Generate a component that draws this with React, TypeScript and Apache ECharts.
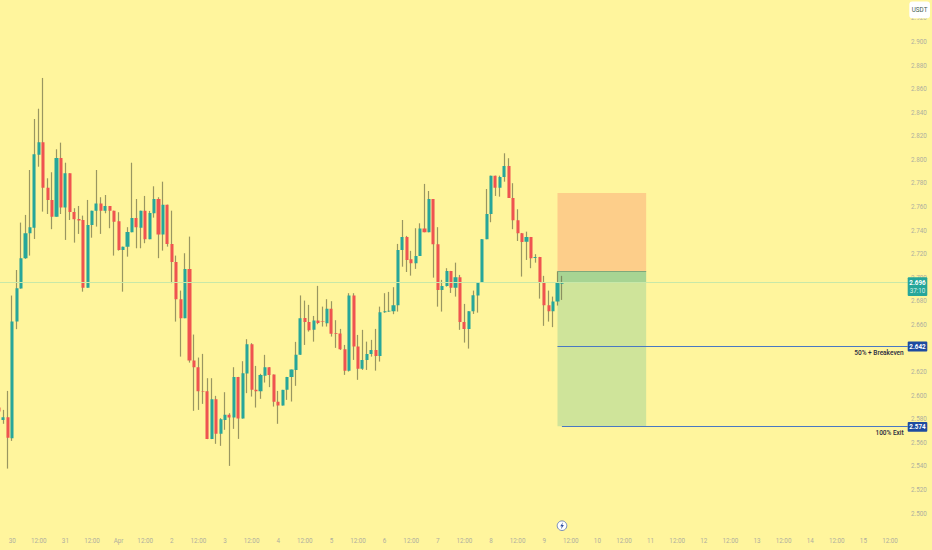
import React, { useEffect, useRef } from "react";
import * as echarts from "echarts";

const opens = [
  2.59, 2.5794, 2.5817, 2.5639, 2.6628, 2.6908, 2.7166, 2.7378, 2.7425, 2.8044,
  2.8149, 2.7764, 2.766, 2.7518, 2.8016, 2.7595, 2.7886, 2.7558, 2.7499, 2.749,
  2.6916, 2.7448, 2.7569, 2.7629, 2.7569, 2.7609, 2.7569, 2.7479, 2.7236, 2.7264,
  2.7386, 2.7507, 2.7425, 2.7569, 2.7327, 2.7547, 2.7668, 2.7366, 2.762, 2.7287,
  2.7134, 2.6818, 2.6657, 2.7075, 2.6297, 2.6241, 2.604, 2.6038, 2.5631, 2.597,
  2.5676, 2.5794, 2.5837, 2.5814, 2.6159, 2.5805, 2.6187, 2.6436, 2.6049, 2.6038,
  2.6168, 2.6241, 2.6179, 2.5947, 2.5916, 2.6049, 2.6159, 2.6218, 2.6346, 2.6659,
  2.6625, 2.6558, 2.6637, 2.6628, 2.6614, 2.6738, 2.6532, 2.6526, 2.6394, 2.621,
  2.6849, 2.6416, 2.6229, 2.6303, 2.6354, 2.6388, 2.6337, 2.6708, 2.6713, 2.6716,
  2.6767, 2.7236, 2.7346, 2.7157, 2.7123, 2.7185, 2.7417, 2.7386, 2.7668, 2.7284,
  2.6897, 2.6931, 2.7058, 2.6916, 2.7004, 2.6625, 2.6566, 2.6716, 2.6849, 2.6959,
  2.7327, 2.7541, 2.7866, 2.7764, 2.7855, 2.7948, 2.7677, 2.7488, 2.7378, 2.7306,
  2.7346, 2.7168, 2.7177, 2.6959, 2.6767, 2.6716, 2.6798, 2.695,
];
const closes = [
  2.5865, 2.5817, 2.5642, 2.6628, 2.6911, 2.7166, 2.7378, 2.7429, 2.8048, 2.8149,
  2.7764, 2.766, 2.7518, 2.8016, 2.7595, 2.7886, 2.7558, 2.7496, 2.7485, 2.6916,
  2.7448, 2.7569, 2.7629, 2.7569, 2.7609, 2.7569, 2.7476, 2.7236, 2.7264, 2.7389,
  2.7507, 2.7429, 2.7569, 2.7327, 2.755, 2.7668, 2.7366, 2.762, 2.7287, 2.7134,
  2.6818, 2.6657, 2.7075, 2.6297, 2.6241, 2.6038, 2.6034, 2.5631, 2.597, 2.5676,
  2.58, 2.5837, 2.5814, 2.6159, 2.5805, 2.619, 2.6436, 2.6049, 2.6038, 2.6174,
  2.6241, 2.6176, 2.5947, 2.5916, 2.6049, 2.6159, 2.6221, 2.6346, 2.6657, 2.6625,
  2.6555, 2.6637, 2.6617, 2.6625, 2.6738, 2.6524, 2.6524, 2.6394, 2.621, 2.6849,
  2.6416, 2.6229, 2.6303, 2.6354, 2.6388, 2.6337, 2.6708, 2.6716, 2.6719, 2.6767,
  2.7236, 2.7346, 2.7151, 2.7123, 2.7185, 2.7417, 2.7386, 2.7668, 2.7284, 2.6897,
  2.6931, 2.7058, 2.6916, 2.7004, 2.6625, 2.6566, 2.6716, 2.6852, 2.6959, 2.7327,
  2.7541, 2.7866, 2.7764, 2.7855, 2.7948, 2.7677, 2.7488, 2.7378, 2.7304, 2.7346,
  2.7166, 2.7177, 2.6959, 2.6767, 2.6716, 2.6798, 2.6959, 2.696,
];
const lows = [
  2.5794, 2.5761, 2.5381, 2.5616, 2.6564, 2.6908, 2.716, 2.7188, 2.7329, 2.7942,
  2.7561, 2.7541, 2.7412, 2.7518, 2.7541, 2.7321, 2.749, 2.7298, 2.7372, 2.6882,
  2.6916, 2.734, 2.7434, 2.7372, 2.7547, 2.742, 2.7188, 2.723, 2.6882, 2.7179,
  2.7386, 2.725, 2.725, 2.7293, 2.7327, 2.751, 2.7166, 2.723, 2.7264, 2.6954,
  2.6628, 2.6331, 2.6657, 2.628, 2.5871, 2.5879, 2.593, 2.5631, 2.5631, 2.5591,
  2.5574, 2.571, 2.5404, 2.5718, 2.5633, 2.5805, 2.6021, 2.5992, 2.5899, 2.5973,
  2.6111, 2.6072, 2.5907, 2.5761, 2.5916, 2.5964, 2.595, 2.6083, 2.6346, 2.643,
  2.6543, 2.6458, 2.6606, 2.6586, 2.6586, 2.6501, 2.6405, 2.6388, 2.6176, 2.6204,
  2.6303, 2.6134, 2.6218, 2.6218, 2.6331, 2.6212, 2.6289, 2.6702, 2.671, 2.6691,
  2.6713, 2.7094, 2.7049, 2.7018, 2.7075, 2.7185, 2.7386, 2.7386, 2.7001, 2.6755,
  2.6713, 2.6925, 2.6871, 2.684, 2.6558, 2.645, 2.6399, 2.6693, 2.6704, 2.6959,
  2.7327, 2.7471, 2.7694, 2.7688, 2.7815, 2.7677, 2.7412, 2.7312, 2.701, 2.7151,
  2.7081, 2.7128, 2.6823, 2.6592, 2.6628, 2.6581, 2.6764, 2.6812,
];
const highs = [
  2.5939, 2.5879, 2.604, 2.6849, 2.7066, 2.7468, 2.7533, 2.7914, 2.8347, 2.8434,
  2.8695, 2.7844, 2.7895, 2.809, 2.8146, 2.7976, 2.7886, 2.759, 2.7609, 2.7527,
  2.766, 2.7569, 2.7914, 2.7683, 2.7702, 2.7609, 2.7569, 2.7556, 2.7264, 2.7429,
  2.7976, 2.7668, 2.7569, 2.7694, 2.7567, 2.7776, 2.7683, 2.7815, 2.762, 2.7569,
  2.7188, 2.6891, 2.7208, 2.7349, 2.6518, 2.6323, 2.6354, 2.6148, 2.6148, 2.5998,
  2.5809, 2.6029, 2.5851, 2.6241, 2.6159, 2.6292, 2.6479, 2.6445, 2.6252, 2.6185,
  2.6346, 2.6241, 2.6179, 2.604, 2.6049, 2.6159, 2.6221, 2.6456, 2.685, 2.6806,
  2.677, 2.6676, 2.6931, 2.6755, 2.6818, 2.6801, 2.664, 2.6566, 2.643, 2.6869,
  2.6869, 2.6515, 2.6558, 2.6458, 2.6473, 2.6566, 2.6755, 2.6869, 2.688, 2.692,
  2.7287, 2.749, 2.7355, 2.7228, 2.742, 2.7462, 2.7796, 2.7736, 2.7668, 2.7429,
  2.6982, 2.7081, 2.7058, 2.7128, 2.7024, 2.6778, 2.6716, 2.6891, 2.6959, 2.7327,
  2.7753, 2.7866, 2.7866, 2.7866, 2.8056, 2.8014, 2.7802, 2.7581, 2.738, 2.7391,
  2.7346, 2.72, 2.7177, 2.7016, 2.6891, 2.684, 2.7055, 2.7016,
];

const dayLabels = ["30", "31", "Apr", "2", "3", "4", "5", "6", "7", "8", "9", "10", "11", "12", "13", "14", "15", "16"];
const BARS_PER_DAY = 12;
const FIRST_DAY_BAR = 3;
const TOTAL_BARS = 206;

const CURRENT_PRICE = 2.696;
const ENTRY_PRICE = 2.7058;
const STOP_PRICE = 2.772;
const HALF_TARGET = 2.642;
const FULL_TARGET = 2.574;
const POSITION_FROM_BAR = 126;
const POSITION_TO_BAR = 146;

const categories = Array.from({ length: TOTAL_BARS }, (_, i) => {
  const d = i - FIRST_DAY_BAR;
  if (d >= 0 && d % BARS_PER_DAY === 0) return dayLabels[d / BARS_PER_DAY];
  if (d % BARS_PER_DAY === BARS_PER_DAY / 2) return "12:00";
  return "";
});

const candles = opens.map((o, i) => [o, closes[i], lows[i], highs[i]]);

const FONT = "Roboto, 'Liberation Sans', sans-serif";
const AXIS_COLOR = "#aeae9f";
const WICK = "rgba(105,105,70,0.68)";
const SHIFT = 4;

const badge = (x: number, y: number, w: number, h: number, fill: string) => ({
  type: "rect",
  shape: { x, y, width: w, height: h, r: 1 },
  style: { fill },
  z: 100,
});
const label = (
  text: string,
  x: number,
  y: number,
  fill: string,
  align: string,
  fontWeight: any = "normal",
  fontSize = 6.3
) => ({
  type: "text",
  z: 101,
  style: { text, x, y, fill, textAlign: align, textVerticalAlign: "middle", fontFamily: FONT, fontSize, fontWeight },
});

export default function App() {
  const ref = useRef<HTMLDivElement>(null);
  useEffect(() => {
    document.body.style.margin = "0";
    const chart = echarts.init(ref.current!, null, { renderer: "svg" });
    chart.setOption({
      animation: false,
      backgroundColor: "#fff59d",
      grid: { left: SHIFT - 3.32, top: 18.425, width: 913.27, height: 518.65 },
      xAxis: {
        type: "category",
        data: categories,
        boundaryGap: true,
        axisLine: { show: false },
        axisTick: { show: false },
        splitLine: { show: false },
        axisLabel: {
          interval: (i: number) => (i - FIRST_DAY_BAR) % (BARS_PER_DAY / 2) === 0 && i >= FIRST_DAY_BAR,
          color: AXIS_COLOR,
          fontSize: 6.3,
          fontFamily: FONT,
          margin: 1,
          hideOverlap: false,
        },
      },
      yAxis: {
        type: "value",
        position: "right",
        min: 2.48,
        max: 2.92,
        interval: 0.02,
        scale: true,
        axisLine: { show: false },
        axisTick: { show: false },
        splitLine: { show: false },
        axisLabel: {
          margin: 1,
          align: "left",
          color: AXIS_COLOR,
          fontSize: 6.3,
          fontFamily: FONT,
          formatter: (v: number) => {
            const s = v.toFixed(3);
            return s === "2.480" || s === "2.640" ? "" : s;
          },
        },
      },
      series: [
        {
          type: "line",
          data: [],
          z: 1,
          silent: true,
          markArea: {
            silent: true,
            data: [
              [
                { xAxis: POSITION_FROM_BAR, yAxis: STOP_PRICE, itemStyle: { color: "#fdce8a" } },
                { xAxis: POSITION_TO_BAR, yAxis: ENTRY_PRICE },
              ],
              [
                { xAxis: POSITION_FROM_BAR, yAxis: ENTRY_PRICE, itemStyle: { color: "#a7d493" } },
                { xAxis: POSITION_TO_BAR, yAxis: CURRENT_PRICE },
              ],
              [
                { xAxis: POSITION_FROM_BAR, yAxis: CURRENT_PRICE, itemStyle: { color: "#cfe49a" } },
                { xAxis: POSITION_TO_BAR, yAxis: FULL_TARGET },
              ],
            ],
          },
          markLine: {
            silent: true,
            symbol: "none",
            label: { show: false },
            data: [
              [
                { coord: [0, CURRENT_PRICE], lineStyle: { color: "#c8e8a8", width: 1, type: "solid" } },
                { coord: [TOTAL_BARS - 1, CURRENT_PRICE] },
              ],
              [
                { coord: [POSITION_FROM_BAR, ENTRY_PRICE], lineStyle: { color: "#7fa87a", width: 1, type: "solid" } },
                { coord: [POSITION_TO_BAR, ENTRY_PRICE] },
              ],
              [
                { coord: [POSITION_FROM_BAR, HALF_TARGET], lineStyle: { color: "#4a78c2", width: 1, type: "solid" } },
                { coord: [TOTAL_BARS - 1, HALF_TARGET] },
              ],
              [
                { coord: [POSITION_FROM_BAR + 1, FULL_TARGET], lineStyle: { color: "#4a78c2", width: 1, type: "solid" } },
                { coord: [TOTAL_BARS - 1, FULL_TARGET] },
              ],
            ],
          },
        },
        {
          name: "wicks",
          type: "candlestick",
          data: candles,
          z: 2,
          barWidth: 1,
          itemStyle: { color: WICK, color0: WICK, borderColor: WICK, borderColor0: WICK, borderWidth: 1.2 },
        },
        {
          name: "bodies",
          type: "candlestick",
          data: candles,
          z: 3,
          barWidth: 3.6,
          itemStyle: { color: "#26a69a", color0: "#ef5350", borderWidth: 0, borderColor: "transparent", borderColor0: "transparent" },
        },
      ],
      graphic: {
        elements: [
          {
            type: "group",
            x: SHIFT,
            children: [
              { type: "rect", z: 100, shape: { x: 909.3, y: 1.5, width: 20.7, height: 16.8, r: 3 }, style: { fill: "#ffffff" } },
              label("USDT", 919.6, 10, "#3f5c50", "center"),
              badge(907.7, 277.3, 19.6, 18.7, "#26a69a"),
              label("2.696", 917.5, 282.5, "#ffffff", "center", "bold"),
              label("37:10", 917.5, 291, "#d6efe9", "center"),
              badge(907.7, 341.5, 19.6, 10, "#1e4ba0"),
              label("2.642", 917.5, 346.5, "#ffffff", "center", "bold"),
              badge(907.7, 422, 19.6, 9.8, "#1e4ba0"),
              label("2.574", 917.5, 427, "#ffffff", "center", "bold"),
              label("50% + Breakeven", 903.7, 353.3, "#2a2a40", "right", 500, 6.5),
              label("100% Exit", 903.7, 433.3, "#2a2a40", "right", 500, 6.5),
              {
                type: "circle",
                z: 100,
                shape: { cx: 562, cy: 525.7, r: 4.8 },
                style: { fill: "#ffffff", stroke: "#5470b8", lineWidth: 0.8 },
              },
              {
                type: "polygon",
                z: 101,
                shape: { points: [[563, 522.3], [560.2, 526.2], [561.8, 526.2], [561, 529.2], [563.9, 525.1], [562.2, 525.1]] },
                style: { fill: "#2f4fa0" },
              },
            ],
          },
        ],
      },
    });
    return () => chart.dispose();
  }, []);
  return (
    <div style={{ position: "absolute", left: 0, top: 0, width: 932, height: 550, overflow: "hidden" }}>
      <div ref={ref} style={{ position: "absolute", left: -SHIFT, top: 0, width: 932 + SHIFT, height: 550 }} />
    </div>
  );
}
